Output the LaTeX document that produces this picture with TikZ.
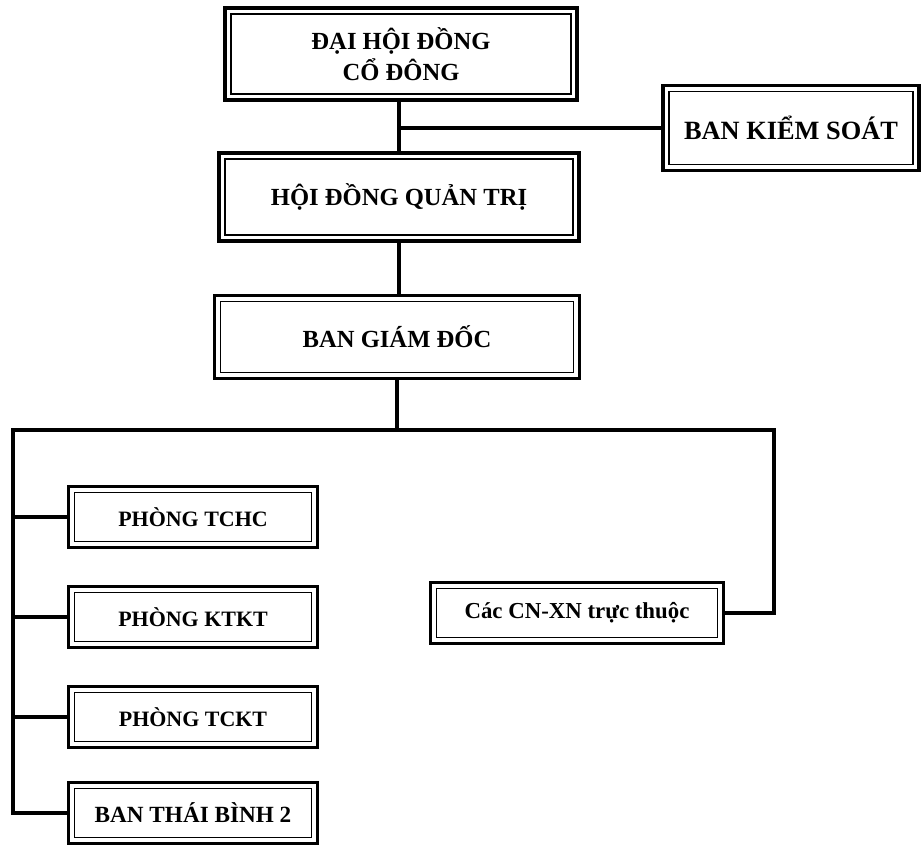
\documentclass[tikz,border=0pt]{standalone}
\usepackage{fontspec}
\setmainfont{Liberation Serif}
\begin{document}
\begin{tikzpicture}[
  x=0.02cm, y=-0.02cm,
  unit/.style={draw, line width=2pt, inner sep=0pt, outer sep=0pt,
    align=center, font=\bfseries\fontsize{14}{18}\selectfont,
    path picture={\draw[line width=0.9pt]
      ([shift={(3.4pt,3.4pt)}]path picture bounding box.south west) rectangle
      ([shift={(-3.4pt,-3.4pt)}]path picture bounding box.north east);}},
  dept/.style={unit, minimum width=4.98cm, minimum height=1.22cm,
    font=\bfseries\fontsize{12.5}{15}\selectfont},
  link/.style={line width=2.2pt}
]
\useasboundingbox (0,0) rectangle (921,846);

\node[unit, minimum width=7.04cm, minimum height=1.84cm] (dhdcd) at (401,54) {ĐẠI HỘI ĐỒNG\\CỔ ĐÔNG};
\node[unit, minimum width=5.12cm, minimum height=1.7cm,
  font=\bfseries\fontsize{15}{18}\selectfont] (bks) at (791,128) {BAN KIỂM SOÁT};
\node[unit, minimum width=7.2cm, minimum height=1.76cm] (hdqt) at (399,197) {HỘI ĐỒNG QUẢN TRỊ};
\node[unit, minimum width=7.3cm, minimum height=1.66cm] (bgd) at (397,337) {BAN GIÁM ĐỐC};

\node[dept] (tchc) at (193,517) {PHÒNG TCHC};
\node[dept] (ktkt) at (193,617) {PHÒNG KTKT};
\node[dept] (tckt) at (193,717) {PHÒNG TCKT};
\node[dept, font=\bfseries\fontsize{13.2}{15}\selectfont] (tb2) at (193,813) {BAN THÁI BÌNH 2};
\node[dept, minimum width=5.86cm, font=\bfseries\fontsize{13}{15}\selectfont] (cnxn) at (577,613) {Các CN-XN trực thuộc};

\coordinate (busL) at (13,430);
\coordinate (busR) at (774,430);

\draw[link] (dhdcd.south -| hdqt.north) -- (hdqt.north);
\draw[link] (bks.west) -- (bks.west -| hdqt.north);
\draw[link] (hdqt.south) -- (hdqt.south |- bgd.north);
\draw[link] (bgd.south) -- (bgd.south |- busL);
\draw[link] (tb2.west) -| (busL) -- (busR) |- (cnxn.east);
\foreach \d in {tchc, ktkt, tckt}
  \draw[link] (\d.west) -- (\d.west -| busL);
\end{tikzpicture}
\end{document}
